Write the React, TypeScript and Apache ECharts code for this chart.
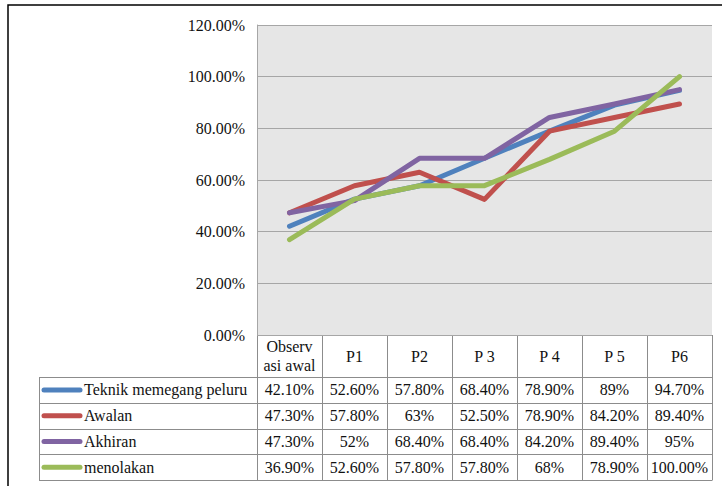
import React, { useEffect, useRef } from "react";
import * as echarts from "echarts";

const categories = ["Observ\nasi awal", "P1", "P2", "P 3", "P 4", "P 5", "P6"];
const seriesNames = ["Teknik memegang peluru", "Awalan", "Akhiran", "menolakan"];
const seriesColors = ["#4F81BD", "#C0504D", "#8064A2", "#9BBB59"];

const teknik = [42.1, 52.6, 57.8, 68.4, 78.9, 89, 94.7];
const awalan = [47.3, 57.8, 63, 52.5, 78.9, 84.2, 89.4];
const akhiran = [47.3, 52, 68.4, 68.4, 84.2, 89.4, 95];
const menolakan = [36.9, 52.6, 57.8, 57.8, 68, 78.9, 100];

const teknikLabels = ["42.10%", "52.60%", "57.80%", "68.40%", "78.90%", "89%", "94.70%"];
const awalanLabels = ["47.30%", "57.80%", "63%", "52.50%", "78.90%", "84.20%", "89.40%"];
const akhiranLabels = ["47.30%", "52%", "68.40%", "68.40%", "84.20%", "89.40%", "95%"];
const menolakanLabels = ["36.90%", "52.60%", "57.80%", "57.80%", "68%", "78.90%", "100.00%"];

const yMin = 0;
const yMax = 120;
const yInterval = 20;

const FONT = "Liberation Serif, Times New Roman, serif";

export default function App() {
  const ref = useRef<HTMLDivElement>(null);

  useEffect(() => {
    document.body.style.margin = "0";
    if (!ref.current) return;
    const chart = echarts.init(ref.current, null, { renderer: "svg" });

    const gridLeft = 257;
    const gridTop = 25;
    const gridWidth = 455;
    const gridHeight = 310;
    const gridBottom = gridTop + gridHeight;
    const gridRight = gridLeft + gridWidth;
    const colW = gridWidth / categories.length;
    const headerBottom = 377;
    const rowH = 25.8;
    const legendLeft = 39;
    const tableBottom = headerBottom + rowH * 4;

    const allValues = [teknik, awalan, akhiran, menolakan];
    const allLabels = [teknikLabels, awalanLabels, akhiranLabels, menolakanLabels];

    const lineColor = "#8c8c8c";
    const graphics: any[] = [];

    graphics.push({
      type: "rect",
      shape: { x: 8, y: 5, width: 730, height: 500 },
      style: { fill: "none", stroke: "#000", lineWidth: 1.5 },
      silent: true,
    });

    graphics.push({
      type: "line",
      shape: { x1: gridLeft, y1: gridBottom + 0.5, x2: gridRight, y2: gridBottom + 0.5 },
      style: { stroke: lineColor, lineWidth: 1 },
    });
    for (let r = 0; r <= 4; r++) {
      const y = Math.round(headerBottom + r * rowH) + 0.5;
      graphics.push({
        type: "line",
        shape: { x1: legendLeft, y1: y, x2: gridRight, y2: y },
        style: { stroke: lineColor, lineWidth: 1 },
      });
    }
    graphics.push({
      type: "line",
      shape: { x1: legendLeft + 0.5, y1: headerBottom, x2: legendLeft + 0.5, y2: Math.round(tableBottom) + 0.5 },
      style: { stroke: lineColor, lineWidth: 1 },
    });
    for (let c = 0; c <= categories.length; c++) {
      const x = Math.round(gridLeft + c * colW) + 0.5;
      graphics.push({
        type: "line",
        shape: { x1: x, y1: gridBottom, x2: x, y2: Math.round(tableBottom) + 0.5 },
        style: { stroke: lineColor, lineWidth: 1 },
      });
    }

    for (let s = 0; s < seriesNames.length; s++) {
      const cy = headerBottom + s * rowH + rowH / 2;
      graphics.push({
        type: "line",
        shape: { x1: 44, y1: cy, x2: 80, y2: cy },
        style: { stroke: seriesColors[s], lineWidth: 5, lineCap: "round" },
      });
      graphics.push({
        type: "text",
        x: 84,
        y: cy,
        style: {
          text: seriesNames[s],
          fontFamily: FONT,
          fontSize: 16,
          fill: "#111",
          align: "left",
          verticalAlign: "middle",
        },
      });
      for (let c = 0; c < categories.length; c++) {
        graphics.push({
          type: "text",
          x: gridLeft + c * colW + colW / 2,
          y: cy,
          style: {
            text: allLabels[s][c],
            fontFamily: FONT,
            fontSize: 16,
            fill: "#111",
            align: "center",
            verticalAlign: "middle",
          },
        });
      }
    }

    chart.setOption({
      animation: false,
      grid: {
        left: gridLeft,
        top: gridTop,
        width: gridWidth,
        height: gridHeight,
        show: true,
        backgroundColor: "#e6e6e6",
        borderWidth: 0,
      },
      xAxis: {
        type: "category",
        data: categories,
        boundaryGap: true,
        axisLine: { show: false },
        axisTick: { show: false },
        axisLabel: {
          show: true,
          interval: 0,
          margin: 21,
          verticalAlign: "middle",
          fontFamily: FONT,
          fontSize: 16,
          lineHeight: 19,
          color: "#111",
        },
      },
      yAxis: {
        type: "value",
        min: yMin,
        max: yMax,
        interval: yInterval,
        axisLine: { show: true, lineStyle: { color: "#a6a6a6", width: 1 } },
        axisTick: { show: false },
        splitLine: { show: true, lineStyle: { color: "#a6a6a6", width: 1 } },
        axisLabel: {
          margin: 12,
          fontFamily: FONT,
          fontSize: 16,
          color: "#111",
          formatter: (v: number) => v.toFixed(2) + "%",
        },
      },
      series: allValues.map((vals, i) => ({
        name: seriesNames[i],
        type: "line",
        data: vals,
        showSymbol: false,
        symbol: "none",
        lineStyle: { color: seriesColors[i], width: 5, cap: "round", join: "round" },
        itemStyle: { color: seriesColors[i] },
        z: 3 + i,
      })),
      graphic: graphics,
    });

    return () => {
      chart.dispose();
    };
  }, []);

  return <div ref={ref} style={{ width: 722, height: 486 }} />;
}
